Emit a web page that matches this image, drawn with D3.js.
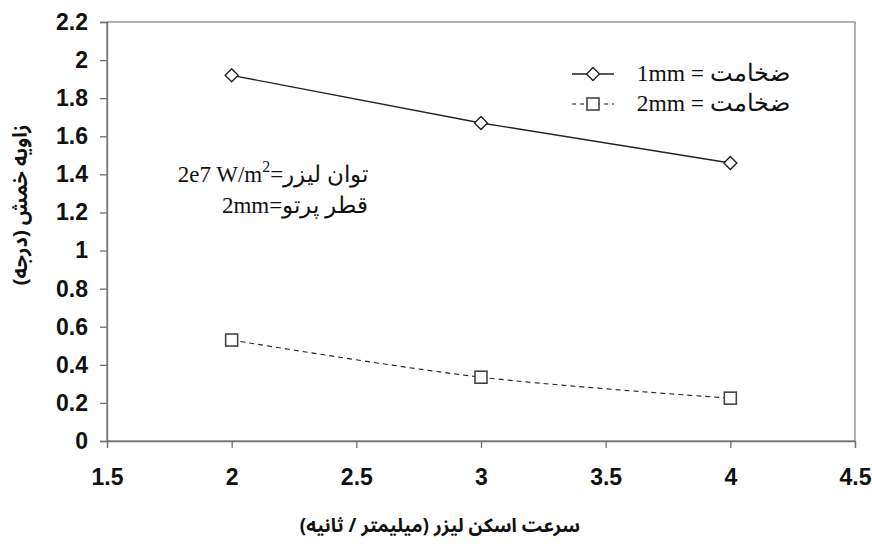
<!DOCTYPE html>
<html><head><meta charset="utf-8">
<script src="https://cdn.jsdelivr.net/npm/d3@7"></script>
<style>body{margin:0;background:#fff}</style>
</head><body>
<svg id="c" width="872" height="549"></svg>
<script>
const xVals = [2, 3, 4];
const series1 = [1.92, 1.67, 1.46];
const series2 = [0.53, 0.335, 0.225];
const xTicks = [1.5, 2, 2.5, 3, 3.5, 4, 4.5];
const yTicks = [0, 0.2, 0.4, 0.6, 0.8, 1, 1.2, 1.4, 1.6, 1.8, 2, 2.2];
const legendLabels = ["1mm = ضخامت", "2mm = ضخامت"];
const yTitle = "زاویه خمش (درجه)";
const xTitle = "سرعت اسکن لیزر (میلیمتر / ثانیه)";

const svg = d3.select("#c");
const L = 107, R = 855, T = 22, B = 441;
const x = d3.scaleLinear().domain([1.5, 4.5]).range([L, R]);
const y = d3.scaleLinear().domain([0, 2.2]).range([B, T]);

svg.append("rect").attr("x", L).attr("y", T).attr("width", R - L).attr("height", B - T)
  .attr("fill", "none").attr("stroke", "#8a8a8a").attr("stroke-width", 1.3);

const tickFont = "'Liberation Sans', Arial, sans-serif";
const xa = svg.append("g").attr("transform", `translate(0,${B})`)
  .call(d3.axisBottom(x).tickValues(xTicks).tickSize(7).tickPadding(21).tickFormat(d3.format("")));
const ya = svg.append("g").attr("transform", `translate(${L},0)`)
  .call(d3.axisLeft(y).tickValues(yTicks).tickSize(7).tickPadding(12).tickFormat(d3.format("")));
[xa, ya].forEach(a => {
  a.select(".domain").attr("stroke", "#707070").attr("stroke-width", 1.3);
  a.selectAll(".tick line").attr("stroke", "#707070").attr("stroke-width", 1.3);
  a.selectAll(".tick text").attr("font-family", tickFont).attr("font-size", 23)
    .attr("font-weight", "bold").attr("fill", "#111");
});

const line = d3.line().x((d, i) => x(xVals[i])).y(d => y(d));
svg.append("path").datum(series1).attr("d", line).attr("fill", "none")
  .attr("stroke", "#222").attr("stroke-width", 1.4);
const line2 = d3.line().x((d, i) => x(xVals[i])).y(d => y(d)).curve(d3.curveCatmullRom.alpha(0.5));
svg.append("path").datum(series2).attr("d", line2).attr("fill", "none")
  .attr("stroke", "#222").attr("stroke-width", 1.1).attr("stroke-dasharray", "5,4");

const diamond = (cx, cy, s) => `M${cx},${cy - s}L${cx + s},${cy}L${cx},${cy + s}L${cx - s},${cy}Z`;
svg.selectAll(".m1").data(series1).enter().append("path")
  .attr("d", (d, i) => diamond(x(xVals[i]), y(d), 6.5))
  .attr("fill", "#fff").attr("stroke", "#222").attr("stroke-width", 1.4);
svg.selectAll(".m2").data(series2).enter().append("rect")
  .attr("x", (d, i) => x(xVals[i]) - 6).attr("y", d => y(d) - 6)
  .attr("width", 12).attr("height", 12)
  .attr("fill", "#fff").attr("stroke", "#444").attr("stroke-width", 1.6);

const serif = "'Liberation Serif', 'Times New Roman', serif";
const lg = [{y: 74, dash: null}, {y: 104, dash: "4,4"}];
lg.forEach((g, i) => {
  svg.append("line").attr("x1", 572).attr("x2", 614).attr("y1", g.y).attr("y2", g.y)
    .attr("stroke", "#222").attr("stroke-width", i ? 1.1 : 1.4)
    .attr("stroke-dasharray", g.dash);
  if (i === 0) svg.append("path").attr("d", diamond(593, g.y, 6.5))
    .attr("fill", "#fff").attr("stroke", "#222").attr("stroke-width", 1.4);
  else svg.append("rect").attr("x", 587).attr("y", g.y - 6).attr("width", 12).attr("height", 12)
    .attr("fill", "#fff").attr("stroke", "#444").attr("stroke-width", 1.6);
  svg.append("text").attr("x", 790).attr("y", g.y + 7).attr("text-anchor", "end")
    .attr("font-family", serif).attr("font-size", 23.5).attr("fill", "#111")
    .text(legendLabels[i]);
});

const a1 = svg.append("text").attr("x", 368).attr("y", 182).attr("text-anchor", "end")
  .attr("font-family", serif).attr("font-size", 23).attr("fill", "#111").text("=توان لیزر");
const w1 = a1.node().getComputedTextLength();
const sup = svg.append("text").attr("x", 368 - w1).attr("y", 172).attr("text-anchor", "end")
  .attr("font-family", serif).attr("font-size", 16).attr("fill", "#111").text("2");
const ws = sup.node().getComputedTextLength();
svg.append("text").attr("x", 368 - w1 - ws).attr("y", 182).attr("text-anchor", "end")
  .attr("font-family", serif).attr("font-size", 23).attr("fill", "#111").text("2e7 W/m");
svg.append("text").attr("x", 368).attr("y", 213).attr("text-anchor", "end")
  .attr("font-family", serif).attr("font-size", 23).attr("fill", "#111").text("2mm=قطر پرتو");

const titleFont = "'Noto Sans Arabic', 'Noto Sans Arabic UI', 'DejaVu Sans', sans-serif";
svg.append("text").attr("transform", `translate(27,205) rotate(-90)`)
  .attr("text-anchor", "middle").attr("font-family", titleFont)
  .attr("font-size", 20).attr("font-weight", "bold").attr("fill", "#111").text(yTitle);
svg.append("text").attr("x", 440).attr("y", 532).attr("text-anchor", "middle")
  .attr("font-family", titleFont)
  .attr("font-size", 19).attr("font-weight", "bold").attr("fill", "#111").text(xTitle);
</script>
</body></html>
